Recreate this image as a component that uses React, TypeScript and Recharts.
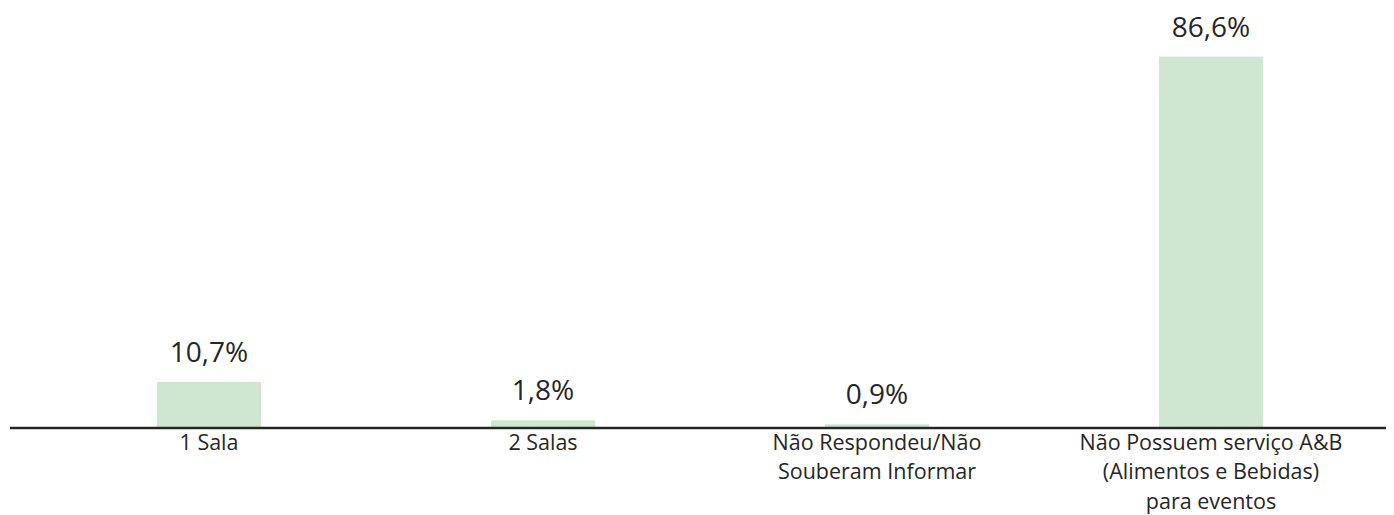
import React from "react";
import { BarChart, Bar, XAxis, YAxis, LabelList } from "recharts";

// categories (each label split into its printed lines)
const categoryLines: string[][] = [
  ["1 Sala"],
  ["2 Salas"],
  ["Não Respondeu/Não", "Souberam Informar"],
  ["Não Possuem serviço A&B", "(Alimentos e Bebidas)", "para eventos"],
];
const shares = [10.7, 1.8, 0.9, 86.6];

const BAR_COLOR = "#CFE7D1";
const TEXT_COLOR = "#262626";
const FONT = "'Open Sans', 'Noto Sans', sans-serif";

const data = categoryLines.map((lines, i) => ({
  name: lines.join(" "),
  lines,
  value: shares[i],
}));

const fmtPct = (v: number) => `${v.toFixed(1).replace(".", ",")}%`;

function CategoryTick(props: any) {
  const { x, y, index } = props;
  const lines = categoryLines[index] ?? [];
  return (
    <g>
      {lines.map((line, i) => (
        <text
          key={line}
          x={x}
          y={y + 22 + i * 29.4}
          textAnchor="middle"
          fontSize={21.5}
          fontFamily={FONT}
          fill={TEXT_COLOR}
        >
          {line}
        </text>
      ))}
    </g>
  );
}

export default function App() {
  return (
    <div style={{ width: 1386, height: 507 }}>
      <BarChart
        width={1386}
        height={507}
        data={data}
        margin={{ top: 34, right: 0, bottom: 0, left: 2 }}
      >
        <XAxis
          dataKey="name"
          interval={0}
          height={87}
          tickSize={0}
          tickMargin={0}
          tickLine={false}
          padding={{ left: 32, right: 16 }}
          axisLine={{ stroke: TEXT_COLOR, strokeWidth: 2.5 }}
          tick={<CategoryTick />}
        />
        <YAxis hide domain={[0, 90]} />
        <Bar
          dataKey="value"
          fill={BAR_COLOR}
          barSize={104}
          isAnimationActive={false}
        >
          <LabelList
            dataKey="value"
            position="top"
            offset={20}
            formatter={(v: any) => fmtPct(Number(v))}
            style={{ fontSize: 28, fontFamily: FONT, fill: TEXT_COLOR }}
          />
        </Bar>
      </BarChart>
    </div>
  );
}
